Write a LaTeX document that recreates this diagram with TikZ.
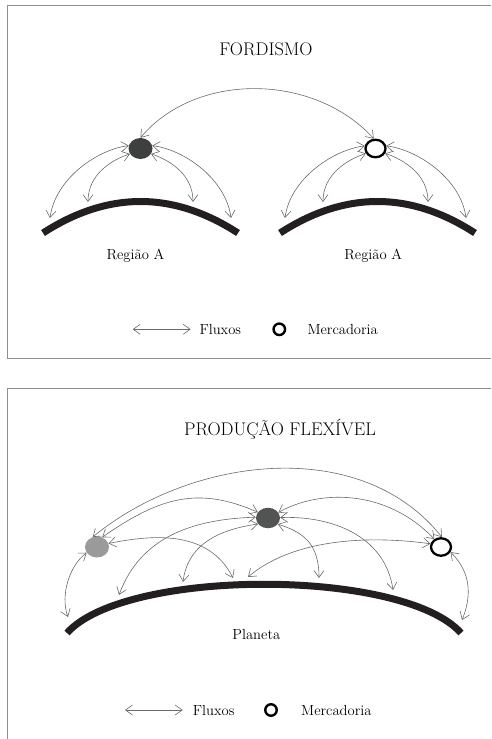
\documentclass[tikz,border=0pt]{standalone}
\usetikzlibrary{arrows.meta,shapes.geometric}
\definecolor{ink}{HTML}{231F20}
\definecolor{flowc}{HTML}{6A6A6A}
\definecolor{framec}{HTML}{8E8E8E}
\definecolor{darkhub}{HTML}{3E403F}
\definecolor{midhub}{HTML}{525453}
\definecolor{lighthub}{HTML}{9A9A9A}

\begin{document}
\begin{tikzpicture}[x=1pt,y=-1pt,
  fluxo/.style={draw=flowc, line width=0.6pt,
    {Straight Barb[length=7pt,width=10pt]}-{Straight Barb[length=7pt,width=10pt]}},
  groundarc/.style={draw=ink, line width=7pt, line cap=butt},
  panelframe/.style={draw=framec, line width=0.9pt},
  hub/.style={ellipse, inner sep=0pt, minimum width=24pt, minimum height=21pt},
  goods/.style={ellipse, draw=black, line width=2.3pt, fill=white, inner sep=0pt,
    minimum width=20pt, minimum height=17.5pt},
  legendgoods/.style={circle, draw=black, line width=2.4pt, fill=white, inner sep=0pt,
    minimum size=11.5pt},
  headtxt/.style={font=\fontsize{18.3}{20}\selectfont, inner sep=0pt},
  txt/.style={font=\fontsize{14.6}{16}\selectfont, inner sep=0pt},
]
\useasboundingbox (0,0) rectangle (491,739);

% ---------- panel frames ----------
\draw[panelframe] (491,5) -- (7,5) -- (7,358) -- (491,358);
\draw[panelframe] (491,388) -- (7,388) -- (7,739);

% ================= FORDISMO =================
\node[headtxt] (t1) at (266,49) {FORDISMO};

% two regions
\draw[groundarc] (43,233) .. controls (108,191) and (173,191) .. (238,233);
\draw[groundarc] (280,233) .. controls (345,191) and (410,191) .. (475,233);

\node[txt, anchor=base] (rA) at (135.5,259.3) {Região A};
\node[txt, anchor=base] (rB) at (373.3,259.3) {Região A};

% hubs
\node[hub, fill=darkhub] (A) at (140.5,148.5) {};
\node[goods] (B) at (375.5,148.5) {};

% landing points on the regions
\coordinate (a1) at (50,218);
\coordinate (a2) at (88,202);
\coordinate (a3) at (193,202);
\coordinate (a4) at (231,218);
\coordinate (b1) at (285,218);
\coordinate (b2) at (323,202);
\coordinate (b3) at (428,202);
\coordinate (b4) at (466,218);

% flows
\draw[fluxo] (A.90) .. controls +(55,-66) and +(-60,-66) .. (B.100);

\draw[fluxo] (A.166) .. controls +(-33.5,4.5) and +(5,-38) .. (a1);
\draw[fluxo] (A.207) .. controls +(-19.5,6.5) and +(0,-27) .. (a2);
\draw[fluxo] (A.-27) .. controls +(19.5,6.5) and +(0,-27) .. (a3);
\draw[fluxo] (A.14) .. controls +(33.5,4.5) and +(-5,-38) .. (a4);

\draw[fluxo] (B.166) .. controls +(-33.5,4.5) and +(5,-38) .. (b1);
\draw[fluxo] (B.207) .. controls +(-19.5,6.5) and +(0,-27) .. (b2);
\draw[fluxo] (B.-27) .. controls +(19.5,6.5) and +(0,-27) .. (b3);
\draw[fluxo] (B.14) .. controls +(33.5,4.5) and +(-5,-38) .. (b4);

% legend
\coordinate (lf1) at (132.7,329.3);
\coordinate (lf2) at (190.7,329.3);
\draw[fluxo] (lf1) -- (lf2);
\node[txt, anchor=base west] (lfx) at (199.3,334.5) {Fluxos};
\node[legendgoods] (lg) at (279.3,329.3) {};
\node[txt, anchor=base west] (lmc) at (307.3,334.5) {Mercadoria};

% ================= PRODUÇÃO FLEXÍVEL =================
\node[headtxt, anchor=base] (t2) at (280,435) {PRODUÇÃO FLEXÍVEL};

\draw[groundarc] (67,633) .. controls (125,568) and (403,568) .. (461,633);
\node[txt, anchor=base] (pl) at (256.3,639.3) {Planeta};

\node[hub, fill=lighthub] (G) at (97,547) {};
\node[hub, fill=midhub, minimum height=20.5pt] (D) at (268,518) {};
\node[goods] (C) at (441,547) {};

\coordinate (p1) at (68,617);
\coordinate (p2) at (119,595);
\coordinate (p3) at (183,582);
\coordinate (p4) at (233,578);
\coordinate (p5) at (248,577);
\coordinate (p6) at (319,578);
\coordinate (p7) at (393,590);
\coordinate (p8) at (462,620);

% flows between hubs
\draw[fluxo] (G.113) .. controls +(97,-79.6) and +(-82,-103) .. (C.85);
\draw[fluxo] (G.62) .. controls +(60,-42) and +(-58,-25) .. (D.150);
\draw[fluxo] (D.28) .. controls +(40,-22.6) and +(-49,-51) .. (C.130);

% flows to the planet
\draw[fluxo] (G.17) .. controls +(40,-8) and +(-25,-50) .. (p4);
\draw[fluxo] (C.163) .. controls +(-50,-7) and +(50,-42) .. (p5);
\draw[fluxo] (D.176) .. controls +(-60,2) and +(22,-60) .. (p2);
\draw[fluxo] (D.211) .. controls +(-35,5) and +(5,-40) .. (p3);
\draw[fluxo] (D.-32) .. controls +(25,8) and +(0,-35) .. (p6);
\draw[fluxo] (D.2) .. controls +(50,-2) and +(-8,-55) .. (p7);
\draw[fluxo] (G.209) .. controls +(-17,12.5) and +(-8,-22) .. (p1);
\draw[fluxo] (C.-28) .. controls +(15,15) and +(13,-32) .. (p8);

% legend
\coordinate (mf1) at (125,710);
\coordinate (mf2) at (182.7,710);
\draw[fluxo] (mf1) -- (mf2);
\node[txt, anchor=base west] (mfx) at (192.7,715) {Fluxos};
\node[legendgoods] (mg) at (271,710) {};
\node[txt, anchor=base west] (mmc) at (301,715) {Mercadoria};
\end{tikzpicture}
\end{document}
